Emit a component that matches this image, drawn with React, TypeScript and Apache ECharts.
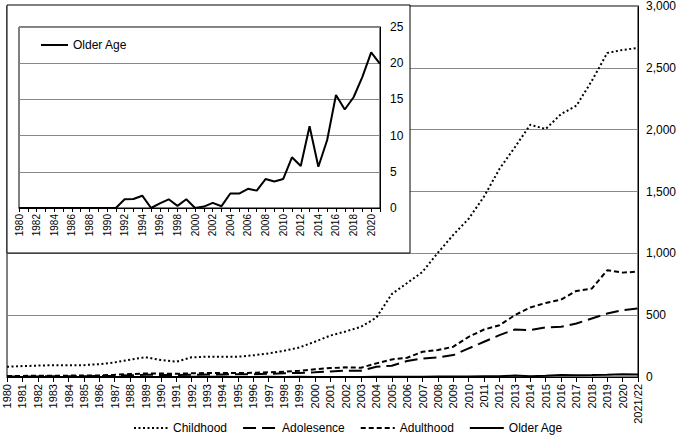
import React, { useEffect, useRef } from "react";
import * as echarts from "echarts";

const mainCategories = [
  "1980","1981","1982","1983","1984","1985","1986","1987","1988","1989",
  "1990","1991","1992","1993","1994","1995","1996","1997","1998","1999",
  "2000","2001","2002","2003","2004","2005","2006","2007","2008","2009",
  "2010","2011","2012","2013","2014","2015","2016","2017","2018","2019",
  "2020","2021/22",
];
const insetCategories = [
  "1980","1981","1982","1983","1984","1985","1986","1987","1988","1989",
  "1990","1991","1992","1993","1994","1995","1996","1997","1998","1999",
  "2000","2001","2002","2003","2004","2005","2006","2007","2008","2009",
  "2010","2011","2012","2013","2014","2015","2016","2017","2018","2019",
  "2020","2021",
];
const childhood = [
  83, 88, 92, 96, 94, 96, 104, 118, 140, 160,
  137, 124, 159, 164, 164, 164, 175, 191, 212, 239,
  285, 335, 368, 406, 480, 670, 760, 850, 1005, 1150,
  1280, 1460, 1683, 1858, 2040, 2005, 2126, 2194, 2395, 2620,
  2645, 2660,
];
const adolescence = [
  4, 5, 5, 6, 6, 7, 8, 10, 14, 18,
  17, 15, 18, 20, 21, 22, 23, 26, 30, 33,
  38, 44, 51, 51, 83, 91, 129, 150, 159, 177,
  231, 285, 339, 384, 379, 401, 406, 433, 473, 513,
  540, 554,
];
const adulthood = [
  8, 9, 10, 10, 11, 12, 13, 18, 24, 28,
  28, 26, 30, 32, 33, 32, 34, 38, 42, 50,
  62, 72, 78, 75, 110, 142, 156, 204, 218, 245,
  325, 384, 419, 500, 562, 599, 626, 696, 715, 863,
  844, 852,
];
const olderAge = [
  0, 0, 0, 0, 0, 0, 0, 0, 0, 0,
  0, 0, 1.2, 1.25, 1.7, 0, 0.65, 1.2, 0.3, 1.2,
  0, 0.2, 0.7, 0.25, 2.0, 2.0, 2.65, 2.4, 4.0, 3.65,
  4.0, 7.0, 5.8, 11.3, 5.7, 9.4, 15.6, 13.6, 15.3, 18.1,
  21.5, 19.9,
];
const mainYTicks = { min: 0, max: 3000, interval: 500 };
const insetYTicks = { min: 0, max: 25, interval: 5 };

const FONT = "Liberation Sans, Arial, sans-serif";

export default function App() {
  const ref = useRef<HTMLDivElement>(null);
  useEffect(() => {
    if (!ref.current) return;
    const chart = echarts.init(ref.current, undefined, { renderer: "svg" });
    const option: any = {
      animation: false,
      backgroundColor: "#fff",
      textStyle: { fontFamily: FONT, color: "#000" },
      grid: [
        {
          left: 7, right: 42, top: 5, bottom: 59,
          show: true, borderColor: "#000", borderWidth: 1, z: 0,
        },
        {
          left: 19, right: 300, top: 27, bottom: 228,
          show: true, borderColor: "#000", borderWidth: 1, z: 21,
          backgroundColor: "transparent",
        },
      ],
      graphic: [
        {
          type: "rect",
          z: 20,
          shape: { x: 7, y: 5, width: 403, height: 248 },
          style: { fill: "#fff", stroke: "#000", lineWidth: 1 },
        },
      ],
      legend: [
        {
          data: ["Childhood", "Adolesence", "Adulthood", "Older Age"],
          left: 128, top: 417,
          itemWidth: 34, itemHeight: 10, itemGap: 15,
          itemStyle: { opacity: 0 },
          textStyle: { fontFamily: FONT, fontSize: 12, color: "#000" },
        },
        {
          data: ["Older Age"],
          left: 35, top: 34,
          itemWidth: 27, itemHeight: 10,
          z: 24,
          itemStyle: { opacity: 0 },
          textStyle: { fontFamily: FONT, fontSize: 12, color: "#000" },
        },
      ],
      xAxis: [
        {
          type: "category", gridIndex: 0, data: mainCategories, boundaryGap: false,
          axisLine: { lineStyle: { color: "#000", width: 1 } },
          axisTick: { show: true, interval: 0, length: 5, lineStyle: { color: "#000" } },
          axisLabel: { interval: 0, rotate: 90, fontSize: 11, color: "#000", margin: 7, fontFamily: FONT },
          splitLine: { show: false },
        },
        {
          type: "category", gridIndex: 1, data: insetCategories, boundaryGap: false, z: 22,
          axisLine: { lineStyle: { color: "#000", width: 1 } },
          axisTick: { show: true, interval: 0, length: 4, lineStyle: { color: "#000" } },
          axisLabel: { interval: 1, rotate: 90, fontSize: 10, color: "#000", margin: 6, fontFamily: FONT },
          splitLine: { show: false },
        },
      ],
      yAxis: [
        {
          type: "value", gridIndex: 0, position: "right",
          ...mainYTicks,
          axisLine: { show: true, lineStyle: { color: "#000" } },
          axisTick: { show: false },
          axisLabel: {
            fontSize: 12, color: "#000", margin: 8, fontFamily: FONT,
            formatter: (v: number) => v.toLocaleString("en-US"),
          },
          splitLine: { show: true, lineStyle: { color: "#888", width: 1 } },
        },
        {
          type: "value", gridIndex: 1, position: "right", z: 22,
          ...insetYTicks,
          axisLine: { show: true, lineStyle: { color: "#000" } },
          axisTick: { show: false },
          axisLabel: { fontSize: 12, color: "#000", margin: 10, fontFamily: FONT },
          splitLine: { show: true, lineStyle: { color: "#888", width: 1 } },
        },
      ],
      series: [
        {
          name: "Childhood", type: "line", xAxisIndex: 0, yAxisIndex: 0,
          data: childhood, symbol: "none", z: 2,
          lineStyle: { color: "#000", width: 2, type: [2, 2.5] },
          itemStyle: { color: "#000" },
        },
        {
          name: "Adolesence", type: "line", xAxisIndex: 0, yAxisIndex: 0,
          data: adolescence, symbol: "none", z: 2,
          lineStyle: { color: "#000", width: 2, type: [13, 6] },
          itemStyle: { color: "#000" },
        },
        {
          name: "Adulthood", type: "line", xAxisIndex: 0, yAxisIndex: 0,
          data: adulthood, symbol: "none", z: 2,
          lineStyle: { color: "#000", width: 2, type: [5, 3] },
          itemStyle: { color: "#000" },
        },
        {
          name: "Older Age", type: "line", xAxisIndex: 0, yAxisIndex: 0,
          data: olderAge, symbol: "none", z: 2,
          lineStyle: { color: "#000", width: 2 },
          itemStyle: { color: "#000" },
        },
        {
          name: "Older Age", type: "line", xAxisIndex: 1, yAxisIndex: 1,
          data: olderAge, symbol: "none", z: 23,
          lineStyle: { color: "#000", width: 2 },
          itemStyle: { color: "#000" },
        },
      ],
    };
    chart.setOption(option);
    return () => chart.dispose();
  }, []);
  return <div ref={ref} style={{ width: 680, height: 436, position: "absolute", left: 0, top: 0 }} />;
}
